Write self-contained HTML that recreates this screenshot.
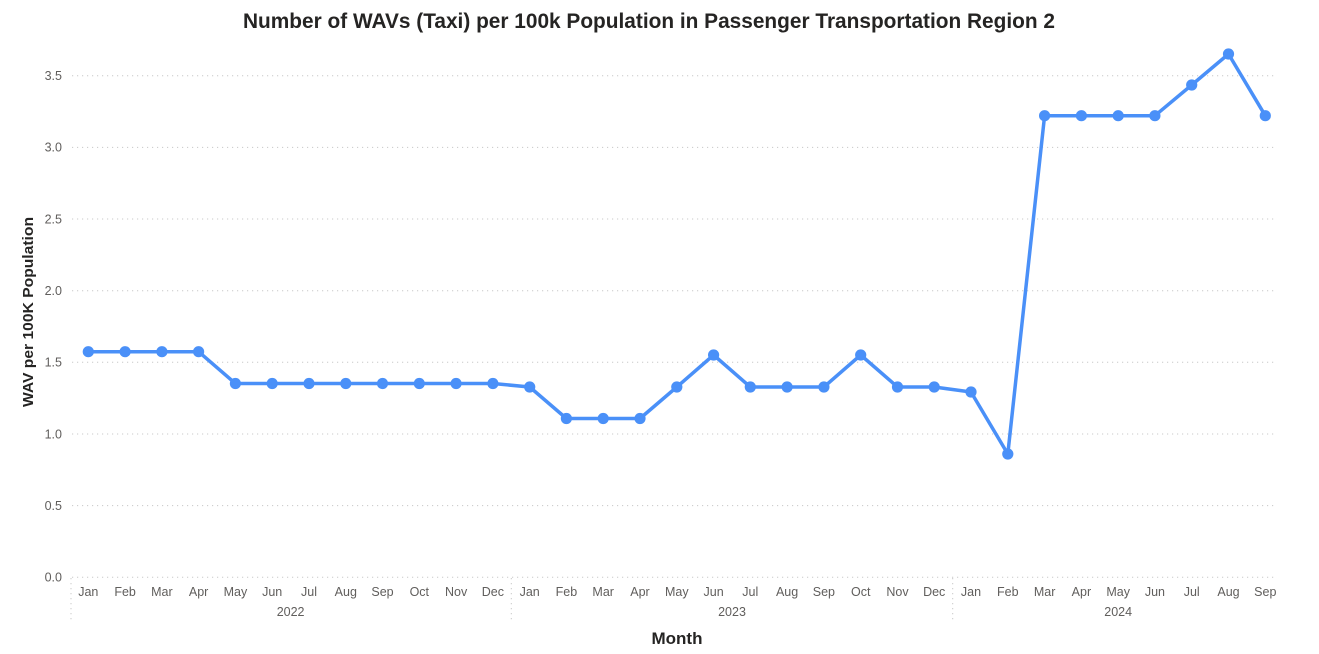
<!DOCTYPE html>
<html>
<head>
<meta charset="utf-8">
<style>
  html, body { margin: 0; padding: 0; background: #ffffff; }
  body { width: 1319px; height: 654px; overflow: hidden; }
  svg { display: block; font-family: "Liberation Sans", "DejaVu Sans", sans-serif; }
  .tick { font-size: 12.5px; fill: #605e5c; }
  .grid { stroke: #c8c8c8; stroke-width: 1; stroke-dasharray: 1.2 3.8; fill: none; }
</style>
</head>
<body>
<svg width="1319" height="654" viewBox="0 0 1319 654" xmlns="http://www.w3.org/2000/svg">
  <!-- Title -->
  <text x="243" y="28" font-size="21" font-weight="bold" fill="#252423" textLength="812" lengthAdjust="spacingAndGlyphs">Number of WAVs (Taxi) per 100k Population in Passenger Transportation Region 2</text>

  <!-- Gridlines -->
  <line class="grid" x1="72" y1="75.7" x2="1276" y2="75.7"/>
  <line class="grid" x1="72" y1="147.4" x2="1276" y2="147.4"/>
  <line class="grid" x1="72" y1="219.0" x2="1276" y2="219.0"/>
  <line class="grid" x1="72" y1="290.7" x2="1276" y2="290.7"/>
  <line class="grid" x1="72" y1="362.3" x2="1276" y2="362.3"/>
  <line class="grid" x1="72" y1="434.0" x2="1276" y2="434.0"/>
  <line class="grid" x1="72" y1="505.6" x2="1276" y2="505.6"/>
  <line class="grid" x1="72" y1="577.3" x2="1276" y2="577.3"/>

  <!-- Year separators -->
  <line class="grid" x1="71" y1="578" x2="71" y2="623"/>
  <line class="grid" x1="511.3" y1="578" x2="511.3" y2="623"/>
  <line class="grid" x1="952.7" y1="578" x2="952.7" y2="623"/>

  <!-- Y tick labels -->
  <g class="tick" text-anchor="end">
    <text x="62" y="80">3.5</text>
    <text x="62" y="151.7">3.0</text>
    <text x="62" y="223.3">2.5</text>
    <text x="62" y="295">2.0</text>
    <text x="62" y="366.6">1.5</text>
    <text x="62" y="438.3">1.0</text>
    <text x="62" y="509.9">0.5</text>
    <text x="62" y="581.6">0.0</text>
  </g>

  <!-- Y axis title -->
  <text transform="translate(33,312) rotate(-90)" text-anchor="middle" font-size="15" font-weight="bold" fill="#252423" textLength="190" lengthAdjust="spacingAndGlyphs">WAV per 100K Population</text>

  <!-- Month labels -->
  <g class="tick" text-anchor="middle">
    <text x="88.3" y="596">Jan</text>
    <text x="125.1" y="596">Feb</text>
    <text x="161.9" y="596">Mar</text>
    <text x="198.6" y="596">Apr</text>
    <text x="235.4" y="596">May</text>
    <text x="272.2" y="596">Jun</text>
    <text x="309.0" y="596">Jul</text>
    <text x="345.8" y="596">Aug</text>
    <text x="382.5" y="596">Sep</text>
    <text x="419.3" y="596">Oct</text>
    <text x="456.1" y="596">Nov</text>
    <text x="492.9" y="596">Dec</text>
    <text x="529.7" y="596">Jan</text>
    <text x="566.4" y="596">Feb</text>
    <text x="603.2" y="596">Mar</text>
    <text x="640.0" y="596">Apr</text>
    <text x="676.8" y="596">May</text>
    <text x="713.6" y="596">Jun</text>
    <text x="750.3" y="596">Jul</text>
    <text x="787.1" y="596">Aug</text>
    <text x="823.9" y="596">Sep</text>
    <text x="860.7" y="596">Oct</text>
    <text x="897.5" y="596">Nov</text>
    <text x="934.2" y="596">Dec</text>
    <text x="971.0" y="596">Jan</text>
    <text x="1007.8" y="596">Feb</text>
    <text x="1044.6" y="596">Mar</text>
    <text x="1081.4" y="596">Apr</text>
    <text x="1118.2" y="596">May</text>
    <text x="1154.9" y="596">Jun</text>
    <text x="1191.7" y="596">Jul</text>
    <text x="1228.5" y="596">Aug</text>
    <text x="1265.3" y="596">Sep</text>
    <text x="290.6" y="616">2022</text>
    <text x="732.0" y="616">2023</text>
    <text x="1118.2" y="616">2024</text>
  </g>

  <!-- X axis title -->
  <text x="677" y="644" text-anchor="middle" font-size="17" font-weight="bold" fill="#252423">Month</text>

  <!-- Series line -->
  <polyline fill="none" stroke="#4a90f8" stroke-width="3.5" stroke-linejoin="round" stroke-linecap="round"
    points="88.3,351.7 125.1,351.7 161.9,351.7 198.6,351.7 235.4,383.5 272.2,383.5 309.0,383.5 345.8,383.5 382.5,383.5 419.3,383.5 456.1,383.5 492.9,383.5 529.7,387 566.4,418.5 603.2,418.5 640.0,418.5 676.8,387 713.6,355 750.3,387 787.1,387 823.9,387 860.7,355 897.5,387 934.2,387 971.0,392 1007.8,454 1044.6,115.7 1081.4,115.7 1118.2,115.7 1154.9,115.7 1191.7,85 1228.5,54 1265.3,115.7"/>

  <!-- Markers -->
  <g fill="#4a90f8">
    <circle cx="88.3" cy="351.7" r="5.6"/>
    <circle cx="125.1" cy="351.7" r="5.6"/>
    <circle cx="161.9" cy="351.7" r="5.6"/>
    <circle cx="198.6" cy="351.7" r="5.6"/>
    <circle cx="235.4" cy="383.5" r="5.6"/>
    <circle cx="272.2" cy="383.5" r="5.6"/>
    <circle cx="309.0" cy="383.5" r="5.6"/>
    <circle cx="345.8" cy="383.5" r="5.6"/>
    <circle cx="382.5" cy="383.5" r="5.6"/>
    <circle cx="419.3" cy="383.5" r="5.6"/>
    <circle cx="456.1" cy="383.5" r="5.6"/>
    <circle cx="492.9" cy="383.5" r="5.6"/>
    <circle cx="529.7" cy="387" r="5.6"/>
    <circle cx="566.4" cy="418.5" r="5.6"/>
    <circle cx="603.2" cy="418.5" r="5.6"/>
    <circle cx="640.0" cy="418.5" r="5.6"/>
    <circle cx="676.8" cy="387" r="5.6"/>
    <circle cx="713.6" cy="355" r="5.6"/>
    <circle cx="750.3" cy="387" r="5.6"/>
    <circle cx="787.1" cy="387" r="5.6"/>
    <circle cx="823.9" cy="387" r="5.6"/>
    <circle cx="860.7" cy="355" r="5.6"/>
    <circle cx="897.5" cy="387" r="5.6"/>
    <circle cx="934.2" cy="387" r="5.6"/>
    <circle cx="971.0" cy="392" r="5.6"/>
    <circle cx="1007.8" cy="454" r="5.6"/>
    <circle cx="1044.6" cy="115.7" r="5.6"/>
    <circle cx="1081.4" cy="115.7" r="5.6"/>
    <circle cx="1118.2" cy="115.7" r="5.6"/>
    <circle cx="1154.9" cy="115.7" r="5.6"/>
    <circle cx="1191.7" cy="85" r="5.6"/>
    <circle cx="1228.5" cy="54" r="5.6"/>
    <circle cx="1265.3" cy="115.7" r="5.6"/>
  </g>
</svg>
</body>
</html>
